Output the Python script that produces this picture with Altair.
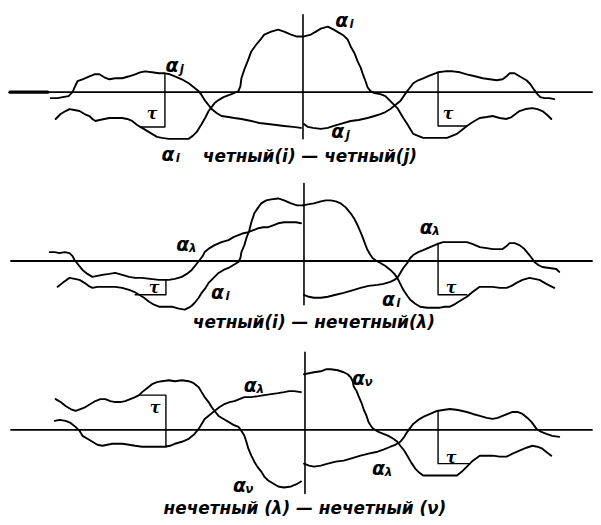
import altair as alt
import pandas as pd

# ---- panel 1: четный(i) — четный(j) ----
base1 = [(7, 91), (593, 91)]
base1_thick = [(7, 91), (45, 91)]
vert1 = [(302, 13), (302, 138)]
tau1_left = [(163, 72), (163, 126), (138, 126)]
tau1_right = [(438, 71), (438, 125), (467, 125)]
a1_j_left = [(48,97),(55,97),(60,96),(66,95),(70,91),(73,84),(75,80),(80,78),(87,75),(92,73),(97,73),(102,76),(107,78),(113,77),(120,77),(127,75),(133,73),(138,71),(143,70),(150,71),(157,72),(163,72),(168,73),(173,75),(180,78),(187,82),(192,86),(197,90),(200,94),(203,99),(207,104),(210,108),(215,112),(220,115),(227,116),(233,117),(240,118),(250,120),(258,122),(267,123),(275,124),(283,125),(292,126),(300,127)]
a1_i_left = [(53,118),(58,113),(63,110),(67,108),(72,109),(77,110),(82,113),(87,115),(90,118),(93,120),(97,119),(102,118),(107,117),(113,117),(120,117),(125,118),(130,120),(135,124),(140,127),(145,130),(150,133),(155,136),(160,137),(167,138),(173,138),(180,138),(187,138),(191,135),(195,131),(200,123),(204,116),(207,110),(210,106),(213,102),(217,99),(222,96),(230,93),(237,90),(239,85),(240,77),(243,68),(247,58),(250,50),(255,43),(260,37),(263,33),(270,30),(277,28),(283,30),(290,33),(296,35),(302,35)]
a1_i_right = [(302,35),(306,34),(310,33),(315,30),(320,27),(327,25),(333,28),(338,31),(343,34),(347,38),(350,45),(354,52),(357,60),(360,66),(362,72),(365,80),(367,86),(370,90),(374,92),(380,93),(385,95),(390,100),(394,104),(397,107),(400,112),(403,117),(407,123),(410,128),(413,133),(418,135),(423,137),(430,137),(437,137),(443,137),(447,137),(452,135),(457,133),(462,129),(467,125),(473,121),(480,117),(487,116),(493,115),(500,117),(507,118),(512,116),(516,113),(520,110),(526,108),(533,107),(538,108),(543,110),(548,114),(552,118)]
a1_j_right = [(303,123),(307,126),(312,127),(320,128),(327,127),(333,125),(340,123),(350,120),(358,119),(367,117),(374,115),(380,113),(385,111),(390,108),(395,104),(400,100),(404,94),(407,90),(410,86),(413,82),(418,79),(423,77),(430,74),(438,71),(445,70),(453,70),(460,71),(467,73),(475,75),(483,77),(490,78),(497,79),(503,78),(507,75),(510,72),(515,72),(520,75),(527,79),(531,83),(535,89),(538,93),(541,96),(545,97),(550,97),(555,98)]

# ---- panel 2: четный(i) — нечетный(λ) ----
base2 = [(8, 261), (593, 261)]
vert2 = [(303, 183), (303, 305)]
tau2_left = [(164, 280), (164, 295), (133, 295)]
tau2_right = [(438, 243), (438, 295), (467, 295)]
a2_l_left = [(47,252),(52,252),(57,253),(62,252),(67,253),(70,256),(72,260),(76,265),(80,270),(85,274),(90,277),(95,276),(100,275),(107,274),(113,273),(120,275),(127,277),(133,278),(140,278),(148,279),(157,280),(163,280),(167,280),(173,279),(180,277),(185,274),(190,270),(194,265),(198,260),(201,256),(203,252),(208,248),(213,245),(220,242),(227,240),(232,237),(237,235),(242,233),(247,232),(252,230),(257,228),(262,227),(267,227),(272,225),(277,223),(283,222),(290,222),(295,222),(300,223)]
a2_i_left = [(55,287),(60,283),(64,280),(67,278),(72,279),(77,280),(82,283),(86,286),(90,288),(95,287),(100,287),(107,287),(113,287),(120,288),(127,290),(132,292),(137,295),(142,298),(147,302),(152,305),(157,307),(163,307),(170,307),(177,309),(183,310),(187,308),(190,306),(193,303),(197,298),(200,293),(204,288),(207,283),(212,278),(217,273),(222,270),(227,268),(232,265),(237,262),(239,258),(240,252),(243,245),(245,238),(248,230),(250,222),(253,213),(257,207),(260,203),(265,200),(270,199),(277,198),(283,200),(290,203),(296,205),(302,205)]
a2_i_right = [(302,205),(307,204),(313,203),(320,201),(325,200),(330,200),(335,201),(340,203),(345,207),(350,213),(354,219),(357,225),(360,232),(362,237),(365,245),(367,250),(370,255),(372,258),(376,261),(380,263),(385,266),(390,270),(394,274),(397,278),(400,284),(403,290),(407,296),(410,300),(415,304),(420,307),(427,308),(433,308),(440,308),(445,307),(450,307),(454,305),(457,303),(462,300),(467,297),(473,292),(480,287),(487,287),(493,287),(500,288),(507,288),(512,286),(517,283),(523,280),(530,278),(535,279),(540,280),(547,284),(555,288)]
a2_l_right = [(303,295),(308,297),(313,298),(320,298),(327,297),(335,295),(343,293),(350,291),(360,288),(368,286),(377,285),(383,284),(390,282),(394,280),(397,278),(400,273),(403,268),(407,263),(410,258),(413,255),(418,252),(423,250),(430,247),(437,244),(443,242),(450,242),(458,242),(467,242),(473,244),(480,247),(487,248),(493,249),(500,249),(503,249),(507,246),(510,243),(515,243),(520,245),(525,249),(530,255),(533,259),(535,262),(539,265),(543,267),(550,268),(557,269),(560,272)]

# ---- panel 3: нечетный (λ) — нечетный (ν) ----
base3 = [(8, 431), (593, 431)]
vert3 = [(304, 353), (304, 495)]
tau3_left = [(138, 396), (164, 396), (164, 448)]
tau3_right = [(438, 412), (438, 465), (470, 465)]
a3_n_left = [(53,400),(58,403),(63,407),(68,410),(73,412),(78,410),(83,408),(88,405),(93,402),(98,400),(103,400),(108,402),(113,403),(118,403),(123,402),(128,400),(133,398),(137,396),(140,393),(145,389),(150,385),(155,383),(160,382),(167,381),(173,382),(180,381),(187,382),(192,384),(197,388),(200,393),(203,398),(207,403),(210,408),(213,412),(217,417),(222,420),(227,423),(232,426),(237,428),(240,432),(243,437),(245,443),(247,450),(250,457),(253,463),(256,468),(260,473),(263,478),(267,482),(272,485),(277,488),(283,489),(290,488),(295,486),(300,483)]
a3_l_left = [(52,422),(57,421),(63,422),(68,424),(73,428),(77,432),(80,437),(85,440),(90,443),(95,446),(100,447),(105,446),(110,445),(115,445),(120,445),(127,446),(133,447),(140,448),(147,448),(155,448),(163,448),(168,447),(173,445),(180,443),(187,440),(192,436),(197,430),(200,425),(203,420),(208,416),(213,412),(218,408),(223,405),(228,403),(233,402),(238,400),(243,398),(250,398),(257,397),(263,396),(270,395),(277,394),(283,393),(288,392),(293,392),(300,393)]
a3_n_right = [(303,375),(308,374),(313,373),(320,372),(325,370),(330,370),(337,371),(343,373),(347,375),(350,378),(352,382),(353,387),(356,392),(358,397),(361,404),(363,410),(366,417),(368,423),(371,428),(373,430),(378,433),(383,435),(388,437),(393,440),(397,443),(400,447),(404,452),(407,457),(411,464),(415,470),(419,474),(423,477),(430,477),(440,477),(448,477),(457,477),(462,473),(467,468),(473,462),(480,457),(487,457),(493,457),(500,458),(507,458),(513,455),(520,452),(527,449),(533,447),(538,448),(543,450),(548,454),(552,457)]
a3_l_right = [(303,465),(308,467),(313,468),(320,467),(327,465),(335,463),(343,462),(350,460),(360,457),(368,455),(377,453),(383,451),(390,448),(395,446),(400,443),(404,438),(407,433),(410,429),(413,425),(418,421),(423,418),(430,415),(437,412),(443,411),(450,410),(458,411),(467,413),(473,415),(480,417),(487,419),(493,420),(498,419),(503,417),(508,415),(513,413),(518,413),(523,415),(528,419),(532,423),(535,427),(537,430),(542,433),(547,435),(553,437),(560,438)]

curves = [
    ("base1", base1, 1.8), ("base1t", base1_thick, 3.2), ("vert1", vert1, 1.6),
    ("tau1l", tau1_left, 1.4), ("tau1r", tau1_right, 1.4),
    ("a1jl", a1_j_left, 1.9), ("a1il", a1_i_left, 1.9), ("a1ir", a1_i_right, 1.9), ("a1jr", a1_j_right, 1.9),
    ("base2", base2, 1.8), ("vert2", vert2, 1.6),
    ("tau2l", tau2_left, 1.4), ("tau2r", tau2_right, 1.4),
    ("a2ll", a2_l_left, 1.9), ("a2il", a2_i_left, 1.9), ("a2ir", a2_i_right, 1.9), ("a2lr", a2_l_right, 1.9),
    ("base3", base3, 1.8), ("vert3", vert3, 1.6),
    ("tau3l", tau3_left, 1.4), ("tau3r", tau3_right, 1.4),
    ("a3nl", a3_n_left, 1.9), ("a3ll", a3_l_left, 1.9), ("a3nr", a3_n_right, 1.9), ("a3lr", a3_l_right, 1.9),
]
rows = []
for name, pts, w in curves:
    for i, (x, y) in enumerate(pts):
        rows.append({"id": name, "x": x, "y": y, "o": i, "w": w})
line_df = pd.DataFrame(rows)

# curve labels: (x, y, subscript)
label_x = [174, 345, 170, 341, 185, 220, 430, 392, 253, 242, 362, 382]
label_y = [65, 19, 154, 131, 245, 293, 228, 300, 387, 488, 380, 470]
label_sub = ["j", "i", "i", "j", "λ", "i", "λ", "i", "λ", "ν", "ν", "λ"]
lab_df = pd.DataFrame({"x": label_x, "y": label_y, "main": ["α"] * len(label_x), "sub": label_sub})

tau_x = [150, 448, 152, 451, 153, 451]
tau_y = [113, 113, 288, 288, 409, 459]
tau_df = pd.DataFrame({"x": tau_x, "y": tau_y, "t": ["τ"] * len(tau_x)})

captions = ["четный(i) — четный(j)", "четный(i) — нечетный(λ)", "нечетный (λ) — нечетный (ν)"]
cap_x = [309, 313, 304]
cap_y = [156, 323, 511]
cap_df = pd.DataFrame({"x": cap_x, "y": cap_y, "t": captions})

X = alt.X("x:Q", scale=alt.Scale(domain=[8, 593]), axis=None)
Y = alt.Y("y:Q", scale=alt.Scale(domain=[8, 517], reverse=True), axis=None)

lines = alt.Chart(line_df).mark_line(color="black", strokeJoin="round", strokeCap="round").encode(
    x=X, y=Y, detail="id:N", order=alt.Order("o:Q"),
    strokeWidth=alt.StrokeWidth("w:Q", scale=None),
)

alpha = alt.Chart(lab_df).mark_text(
    font="DejaVu Sans", fontStyle="italic", fontWeight="bold", fontSize=19,
    align="center", baseline="middle", dx=-4, color="black",
).encode(x=X, y=Y, text="main:N")
sub = alt.Chart(lab_df).mark_text(
    font="DejaVu Sans", fontStyle="italic", fontWeight="bold", fontSize=12,
    align="center", baseline="middle", dx=6, dy=3, color="black",
).encode(x=X, y=Y, text="sub:N")

tau = alt.Chart(tau_df).mark_text(
    font="DejaVu Serif", fontStyle="italic", fontWeight="bold", fontSize=16,
    align="center", baseline="middle", color="black",
).encode(x=X, y=Y, text="t:N")

caps = alt.Chart(cap_df).mark_text(
    font="DejaVu Sans", fontStyle="italic", fontWeight="bold", fontSize=17,
    align="center", baseline="middle", color="black",
).encode(x=X, y=Y, text="t:N")

chart = alt.layer(lines, alpha, sub, tau, caps).properties(
    width=585, height=509, padding=0, background="white"
).configure_view(strokeWidth=0)

chart.save("out.html", embed_options={"renderer": "svg", "actions": False})
